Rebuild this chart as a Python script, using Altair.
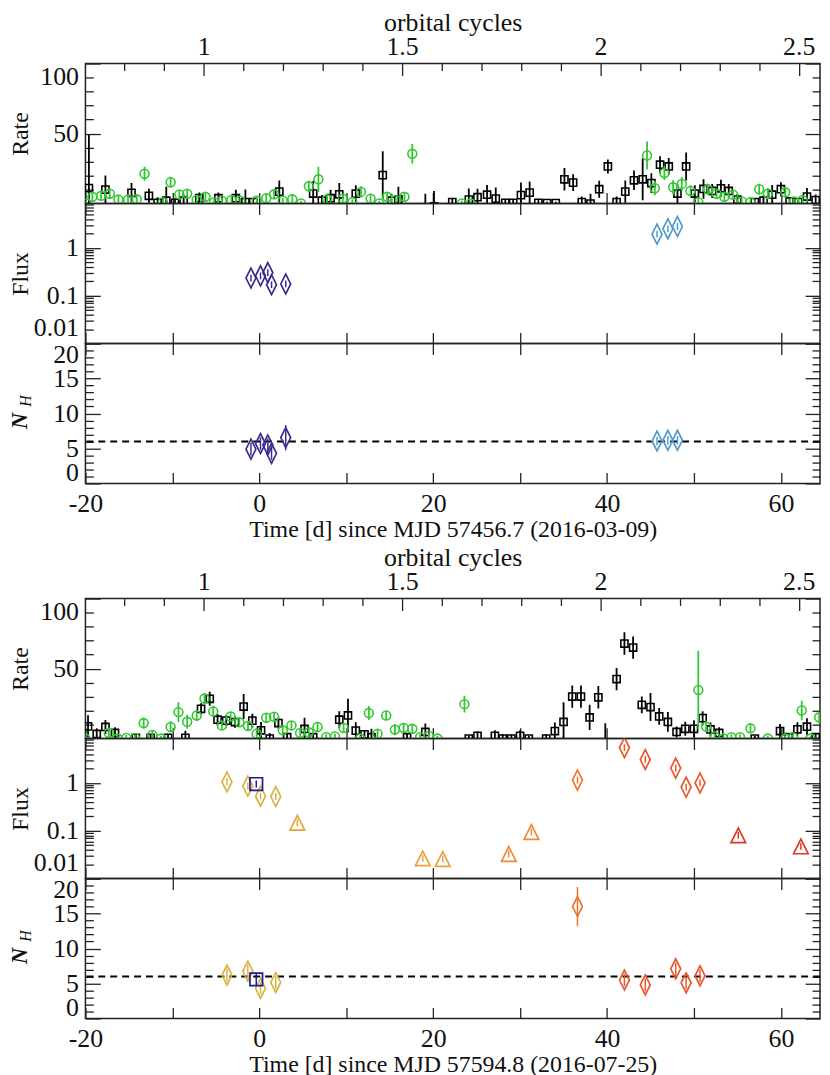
import altair as alt
import pandas as pd

# ---------------- data ----------------
# Top block: MJD 57456.7 -- black squares (rate)
b1_t = [-19.6, -17.7, -14.7, -12.7, -11.7, -10.7, -9.7, -8.7, -6.9, -4.7, -2.7, -1.6, -0.7, 2.3, 6.2, 7.2,
        8.2, 9.2, 11.1, 14.2, 15.2, 16.0, 19.1, 20.1, 22.2, 24.1, 25.1, 26.2, 27.2, 28.3, 29.2, 30.1, 31.1,
        32.1, 33.1, 34.1, 35.1, 36.1, 37.1, 38.1, 39.1, 40.1, 41.1, 42.1, 43.1, 44.1, 45.1, 46.1, 47.1,
        48.1, 49.1, 50.1, 51.1, 52.1, 53.1, 54.0, 55.0, 57.0, 58.0, 59.0, 60.0, 61.0, 62.0, 63.0, 64.0]
b1_r = [11, 10, 7.6, 5.5, 0.5, 2, 0.5, 2, 3.8, 3.8, 3.8, 1, 1, 8.5, 7.1, 2,
        3.8, 6.6, 7, 20.3, 2, 3, -3, -2, 1, 2.8, 4.5, 6.3, 3.5, 0.5, 0.5, 6, 7.8,
        0.5, 0.3, 0.3, 17.3, 14.9, 1, 0, 10.2, 26.5, 1, 8.5, 16.6, 17.3, 14.6, 27.7, 26.5,
        7.1, 26.5, 7.1, 10.4, 9, 10.9, 9, 2.8, 1, 2, 6.3, 10.2, 1.5, 1, 5, 2.5]
b1_e = [38, 10, 7, 5, 4, 10, 3, 4, 4, 4, 6, 9, 3, 8, 9, 4,
        6, 8, 6, 17, 5, 9, 10, 11, 3, 8, 6, 7, 8, 2, 2, 9, 8,
        2, 1, 1, 8, 6, 4, 7, 6, 5, 4, 8, 7, 15, 7, 6, 6,
        7, 10, 6, 7, 5, 6, 5, 4, 3, 4, 7, 5, 3, 2, 6, 4]
# Top block: green circles (rate)
g1_t = [-19.9, -19.2, -18.2, -17.2, -16.2, -15.1, -14.1, -13.2, -11.1, -10.2, -9.2, -8.3, -7.2, -6.2, -5.2,
        -4.3, -3.2, -2.2, -0.3, 0.8, 1.7, 2.7, 3.8, 4.8, 5.7, 6.8, 7.8, 9.6, 10.7, 11.7, 12.8, 13.8, 14.7,
        15.7, 16.7, 17.6, 23.3, 24.3, 44.6, 45.5, 46.6, 47.6, 48.6, 49.6, 50.5, 51.6, 52.6, 53.5, 54.5,
        55.5, 56.5, 57.5, 58.5, 60.5, 61.5, 62.5]
g1_r = [0, 4.8, 5.5, 7, 2.8, 2.8, 3, 21.3, 1, 15.2, 6.5, 7, 2.5, 4.8, 1,
        2, 2.5, 2, 2, 3.8, 6.6, 2, 3, 0, 12.3, 17.3, 3, 3.5, 1, 8.3, 3.5, 0, 4.8,
        2.5, 4.8, 35.5, 0, 0, 34.3, 10.9, 21.8, 11.6, 14, 9, 1, 10.2, 7, 4.8, 6.3,
        1.5, 1, 10.2, 7, 8, 1.5, 2.5]
g1_e = [2, 3, 3, 3, 3, 3, 3, 5, 2, 4, 3, 3, 3, 3, 2,
        2, 3, 2, 3, 3, 3, 2, 3, 2, 4, 9, 3, 3, 2, 4, 3, 2, 3,
        2, 3, 7, 2, 2, 10, 5, 5, 5, 5, 4, 3, 4, 3, 3, 3,
        2, 3, 4, 4, 3, 2, 3]

# Bottom block: MJD 57594.8 -- black squares (rate)
b2_t = [-19.7, -18.7, -17.7, -16.6, -14.2, -12.5, -10.5, -8.5, -6.7, -5.7, -4.8, -3.8, -2.8, -1.8, -0.8,
        0.2, 1.2, 2.2, 3.2, 5.2, 6.2, 9.2, 10.2, 11.1, 12.1, 12.9, 17.0, 19.1, 24.1, 25.1, 27.1, 28.0,
        29.0, 30.0, 31.0, 33.0, 34.0, 35.0, 36.0, 37.0, 38.0, 39.0, 39.8, 41.1, 42.0, 43.0, 44.0, 45.0,
        46.0, 47.0, 48.0, 49.0, 50.0, 51.0, 51.9, 52.9, 57.0, 59.9, 60.9, 61.9, 63.0, 64.0]
b2_r = [8.7, 3.3, 8.3, 4, 0.5, 0.5, 0.5, 0.5, 21.3, 28.4, 13.5, 12.8, 11.8, 22.9, 12.8,
        5.9, 0, 11.1, 1, 6.9, 1, 13.5, 16.5, 5.7, 3, 1, 1, 4.7, 0, 2, 2, 0,
        0, 2, 0, 0, 5.4, 11.9, 30, 30, 15.1, 29.5, -3, 42.5, 67.9, 65, 24.1, 22.5,
        15.8, 11.9, 4.7, 7, 7, 14.6, 6.5, 4, 0, 5.4, 1, 6.6, 8.5, 1]
b2_e = [8, 4, 5, 4, 2, 2, 3, 5, 4, 5, 4, 4, 4, 9, 5,
        6, 4, 4, 3, 8, 3, 6, 12, 6, 3, 6, 3, 6, 2, 3, 4, 3,
        3, 4, 2, 3, 6, 14, 8, 8, 9, 8, 14, 8, 8, 8, 6, 10,
        6, 7, 4, 5, 6, 5, 5, 4, 2, 5, 3, 5, 6, 3]
# Bottom block: green circles (rate)
g2_t = [-20.0, -17.3, -16.3, -15.3, -14.3, -13.3, -12.3, -11.3, -10.2, -9.3, -8.3, -7.2, -6.3, -5.3, -4.3,
        -3.3, -2.3, -1.3, -0.3, 0.8, 1.7, 2.7, 3.7, 4.7, 5.7, 6.7, 7.7, 8.7, 9.7, 11.6, 12.6, 13.6,
        14.6, 15.6, 16.6, 17.6, 18.5, 19.5, 20.5, 23.6, 50.5, 51.4, 52.4, 53.4, 54.3, 55.3, 56.5, 58.5,
        60.5, 61.4, 62.4, 63.4, 64.4]
g2_r = [0, 4, 0, 0.5, 0.5, 11.1, 2.6, 0, 8.3, 18.9, 12, 16.5, 28.6, 19.4, 9.4,
        15.8, 11.6, 9, 3.5, 14.9, 15.6, 5.9, 9.4, 4, 4.5, 8.3, 1, 1.5, 7.6, 0, 18.2, 3.5,
        16.5, 6.4, 7.6, 7, 1, 2, 0, 24.6, 34.7, 8.5, 1.5, 0, 1, 1, 7.3, 0,
        0, 1, 20.1, 0, 15.2]
g2_e = [2, 3, 2, 2, 2, 4, 3, 2, 4, 7, 5, 4, 4, 4, 3,
        3, 3, 3, 3, 3, 3, 3, 3, 3, 3, 3, 2, 2, 3, 2, 5, 3,
        3, 4, 3, 3, 2, 2, 2, 6, 28, 4, 2, 2, 2, 2, 3, 2,
        2, 2, 7, 2, 4]

# Spectral fits, top block (diamonds): time, flux, N_H, N_H error, group
d1_t = [-0.96, 0.14, 0.98, 1.41, 3.04, 45.75, 47.0, 48.1]
d1_f = [0.234, 0.26, 0.305, 0.17, 0.176, 1.94, 2.51, 2.8]
d1_nh = [4.9, 5.7, 5.5, 4.3, 6.55, 6.07, 6.17, 6.17]
d1_nhe = [0.9, 0.9, 0.9, 0.9, 1.8, 0.6, 0.6, 0.6]
d1_g = ["c1", "c1", "c1", "c1", "c1", "c2", "c2", "c2"]

# Spectral fits, bottom block
d2_t = [-3.72, -1.32, 0.14, 1.89, 36.6, 42.0, 44.4, 47.9, 49.1, 50.7]
d2_f = [1.05, 0.86, 0.53, 0.52, 1.15, 5.5, 3.1, 2.05, 0.82, 1.0]
d2_nh = [6.2, 6.77, 4.3, 5.15, 16.0, 5.5, 4.8, 7.1, 5.1, 6.1]
d2_nhe = [0.9, 0.9, 0.9, 0.9, 2.8, 0.9, 0.9, 0.9, 0.9, 0.9]
d2_g = ["c3", "c3", "c3", "c3", "c8", "c9", "c9", "c9", "c9", "c9"]
tri_t = [4.38, 18.8, 21.1, 28.7, 31.3, 55.1, 62.3]
tri_f = [0.147, 0.0264, 0.0256, 0.0326, 0.094, 0.08, 0.047]
tri_g = ["c5", "c6", "c6", "c7", "c7", "c10", "c10"]
sq_t = [-0.35]
sq_f = [0.95]
sq_nh = [5.6]
sq_g = ["c4"]

nh_ref = 6.0

# ---------------- styling / geometry ----------------
FONT = "Liberation Serif"
LBL = 26
W, H = 740, 141
X_DOM = [-20, 64.5]
CYC_DOM = [0.7017, 2.5536]
FLUX_DOM = [0.01, 8.5]
GREEN = "#33c733"
COLORS = {"c1": "#3f2b8e", "c2": "#4f9bcc", "c3": "#d8b340", "c4": "#1a1a9c", "c5": "#e3a33a",
          "c6": "#eda03f", "c7": "#ec8a3a", "c8": "#ee7631", "c9": "#e8582b", "c10": "#dc3626"}
DIAMOND = "M0,-1L0.5,0L0,1L-0.5,0Z"
TRIANGLE = "M0,-0.85L0.85,0.85L-0.85,0.85Z"
TITLE_LEFT = -77  # left bound of the y titles, relative to the plot's left edge

col_scale = alt.Scale(domain=list(COLORS.keys()), range=list(COLORS.values()))


def xscale():
    return alt.Scale(domain=X_DOM, nice=False, zero=False)


def cscale():
    return alt.Scale(domain=CYC_DOM, nice=False, zero=False)


def ax(orient, size, values, **kw):
    d = dict(orient=orient, offset=-size, tickSize=size, values=values, domain=False, grid=False,
             ticks=True, tickColor="#222", tickWidth=1.3, labels=False, title=None, minExtent=0,
             labelOverlap=False)
    d.update(kw)
    return alt.Axis(**d)


carrier_df = pd.DataFrame({"t": [0.0], "c": [1.5], "r": [50.0], "f": [1.0], "n": [10.0]})


def carrier(xf, xsc, xaxis, yf, ysc, yaxis):
    xe = alt.X(xf, type="quantitative", scale=xsc, axis=xaxis)
    ye = alt.Y(yf, type="quantitative", scale=ysc, axis=yaxis)
    return alt.Chart(carrier_df).mark_point(opacity=0).encode(x=xe, y=ye)


day_ticks = list(range(-20, 61, 10))


def left_major(values, title, size=15, **kw):
    d = dict(labels=True, labelPadding=7, labelFlush=True, title=title, titleAngle=270,
             titleBaseline="top", titleX=TITLE_LEFT - size, titleY=H / 2, titlePadding=0)
    d.update(kw)
    return ax("left", size, values, **d)


# ---------------- panels ----------------
def rate_panel(bt, br, be, gt, gr, ge):
    ysc = alt.Scale(domain=[0, 100], nice=False, zero=False)
    bdf = pd.DataFrame({"t": bt, "r": br, "lo": [a - b for a, b in zip(br, be)], "hi": [a + b for a, b in zip(br, be)]})
    gdf = pd.DataFrame({"t": gt, "r": gr, "lo": [a - b for a, b in zip(gr, ge)], "hi": [a + b for a, b in zip(gr, ge)]})
    maj = [50, 100]
    mnr = [v for v in range(10, 100, 10) if v != 50]
    cmaj = [1.0, 1.5, 2.0, 2.5]
    cmin = [round(0.1 * k, 1) for k in range(8, 26) if k % 5 != 0]
    layers = [
        carrier("t", xscale(), ax("bottom", 11, day_ticks), "r", ysc,
                left_major(maj, "Rate", labelFlushOffset=0)),
        carrier("c", cscale(), ax("top", 12, cmaj, labels=True, format="~g", labelPadding=4, labelFlush=False,
                                  title="orbital cycles", titlePadding=-2, titleFontSize=26),
                "r", ysc, ax("left", 8, mnr)),
        carrier("c", cscale(), ax("top", 7, cmin), "r", ysc, ax("right", 15, maj)),
        carrier("t", xscale(), None, "r", ysc, ax("right", 8, mnr)),
    ]
    for df, color, shape, size in [(bdf, "black", "square", 52), (gdf, GREEN, "circle", 80)]:
        layers.append(alt.Chart(df).mark_rule(color=color, strokeWidth=1.8, clip=True).encode(
            x=alt.X("t:Q", scale=xscale(), axis=None),
            y=alt.Y("lo:Q", scale=ysc, axis=None), y2="hi:Q"))
        layers.append(alt.Chart(df).mark_point(shape=shape, filled=False, color=color, size=size,
                                               strokeWidth=1.6, opacity=1, clip=True).encode(
            x=alt.X("t:Q", scale=xscale(), axis=None),
            y=alt.Y("r:Q", scale=ysc, axis=None)))
    return alt.layer(*layers).resolve_scale(x="independent").resolve_axis(
        x="independent", y="independent").properties(width=W, height=H)


def flux_panel(groups):
    ysc = alt.Scale(type="log", domain=FLUX_DOM, nice=False)
    maj = [0.01, 0.1, 1]
    mnr = [round(m * d, 4) for d in [0.01, 0.1, 1] for m in range(2, 10) if m * d <= FLUX_DOM[1]]
    layers = [
        carrier("t", xscale(), ax("bottom", 11, day_ticks), "f", ysc,
                left_major(maj, "Flux", labelFlushOffset=-3, format="~g")),
        carrier("t", xscale(), ax("top", 11, day_ticks), "f", ysc, ax("left", 8, mnr)),
        carrier("t", xscale(), None, "f", ysc, ax("right", 15, maj)),
        carrier("t", xscale(), None, "f", ysc, ax("right", 8, mnr)),
    ]
    for (t, f, g, shape, size) in groups:
        df = pd.DataFrame({"t": t, "f": f, "g": g, "lo": [v * 0.85 for v in f], "hi": [v * 1.18 for v in f]})
        layers.append(alt.Chart(df).mark_rule(strokeWidth=1.5, clip=True).encode(
            x=alt.X("t:Q", scale=xscale(), axis=None),
            y=alt.Y("lo:Q", scale=ysc, axis=None), y2="hi:Q",
            color=alt.Color("g:N", scale=col_scale, legend=None)))
        layers.append(alt.Chart(df).mark_point(shape=shape, filled=False, size=size, strokeWidth=1.7,
                                               opacity=1, clip=True).encode(
            x=alt.X("t:Q", scale=xscale(), axis=None),
            y=alt.Y("f:Q", scale=ysc, axis=None),
            color=alt.Color("g:N", scale=col_scale, legend=None)))
    return alt.layer(*layers).resolve_axis(x="independent", y="independent").properties(width=W, height=H)


def nh_panel(groups, xtitle):
    ysc = alt.Scale(domain=[0, 20], nice=False, zero=False)
    maj = [0, 5, 10, 15, 20]
    mnr = [v for v in range(1, 20) if v % 5 != 0]
    layers = [
        carrier("t", xscale(), ax("bottom", 11, day_ticks, labels=True, labelFlush=False, labelPadding=7,
                                  labelExpr="datum.value % 20 == 0 ? '' + datum.value : ''",
                                  title=xtitle, titlePadding=1),
                "n", ysc, left_major(maj, "N", labelFlushOffset=2, titleFontStyle="italic",
                                     titleFontWeight="bold", titleFontSize=23, titleY=H / 2 + 7)),
        carrier("t", xscale(), ax("top", 11, day_ticks), "n", ysc,
                ax("left", 8, mnr, title="H", titleAngle=270, titleBaseline="top", titleFontStyle="italic",
                   titleFontSize=16, titleX=TITLE_LEFT + 9 - 8, titleY=H / 2 - 13)),
        carrier("t", xscale(), None, "n", ysc, ax("right", 15, maj)),
        carrier("t", xscale(), None, "n", ysc, ax("right", 8, mnr)),
        alt.Chart(carrier_df).mark_rule(color="black", strokeWidth=2, strokeDash=[7, 5]).encode(
            y=alt.Y(datum=nh_ref, type="quantitative", scale=ysc, axis=None)),
    ]
    for (t, n, e, g, shape, size) in groups:
        df = pd.DataFrame({"t": t, "n": n, "g": g, "lo": [a - b for a, b in zip(n, e)],
                           "hi": [a + b for a, b in zip(n, e)]})
        layers.append(alt.Chart(df).mark_rule(strokeWidth=1.5, clip=True).encode(
            x=alt.X("t:Q", scale=xscale(), axis=None),
            y=alt.Y("lo:Q", scale=ysc, axis=None), y2="hi:Q",
            color=alt.Color("g:N", scale=col_scale, legend=None)))
        layers.append(alt.Chart(df).mark_point(shape=shape, filled=False, size=size, strokeWidth=1.7,
                                               opacity=1, clip=True).encode(
            x=alt.X("t:Q", scale=xscale(), axis=None),
            y=alt.Y("n:Q", scale=ysc, axis=None),
            color=alt.Color("g:N", scale=col_scale, legend=None)))
    return alt.layer(*layers).resolve_axis(x="independent", y="independent").properties(width=W, height=H)


top = alt.vconcat(
    rate_panel(b1_t, b1_r, b1_e, g1_t, g1_r, g1_e),
    flux_panel([(d1_t, d1_f, d1_g, DIAMOND, 400)]),
    nh_panel([(d1_t, d1_nh, d1_nhe, d1_g, DIAMOND, 400)], "Time [d] since MJD 57456.7 (2016-03-09)"),
    spacing=0, bounds="flush")

bottom = alt.vconcat(
    rate_panel(b2_t, b2_r, b2_e, g2_t, g2_r, g2_e),
    flux_panel([(d2_t, d2_f, d2_g, DIAMOND, 400), (tri_t, tri_f, tri_g, TRIANGLE, 300),
                (sq_t, sq_f, sq_g, "square", 160)]),
    nh_panel([(d2_t, d2_nh, d2_nhe, d2_g, DIAMOND, 400), (sq_t, sq_nh, [0.9], sq_g, "square", 160)],
             "Time [d] since MJD 57594.8 (2016-07-25)"),
    spacing=0, bounds="flush")

chart = alt.vconcat(top, bottom, spacing=2).properties(
    padding={"left": 0, "top": -3, "right": 0, "bottom": 0}
).configure_view(stroke="#222", strokeWidth=1.5).configure_axis(
    labelFont=FONT, titleFont=FONT, labelFontSize=LBL, titleFontSize=24, labelColor="#111",
    titleColor="#111", titleFontWeight="normal"
)

chart.save("out.html", embed_options={"renderer": "svg", "actions": False})
